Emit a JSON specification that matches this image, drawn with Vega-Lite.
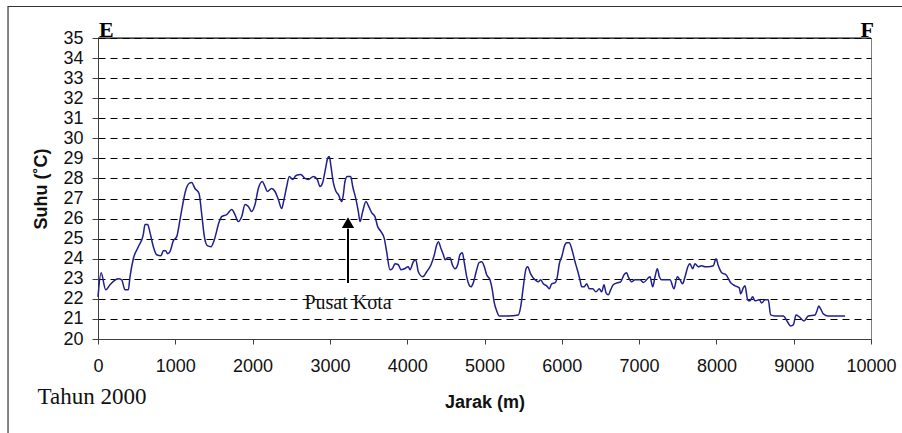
{
  "$schema": "https://vega.github.io/schema/vega-lite/v6.json",
  "width": 773,
  "height": 301,
  "autosize": {"type": "none"},
  "padding": {"left": 98, "top": 38, "right": 31, "bottom": 94},
  "background": "white",
  "config": {
    "view": {"stroke": "#808080", "strokeWidth": 1},
    "font": "Liberation Sans"
  },
  "datasets": {
    "suhu": [
      {"jarak":0,"suhu":22.1},{"jarak":40,"suhu":23.3},{"jarak":100,"suhu":22.45},{"jarak":155,"suhu":22.7},{"jarak":263,"suhu":23.0},{"jarak":306,"suhu":22.95},{"jarak":350,"suhu":22.45},{"jarak":392,"suhu":22.45},{"jarak":414,"suhu":23.1},{"jarak":457,"suhu":24.0},{"jarak":522,"suhu":24.6},{"jarak":586,"suhu":25.2},{"jarak":608,"suhu":25.7},{"jarak":643,"suhu":25.7},{"jarak":673,"suhu":25.3},{"jarak":716,"suhu":24.6},{"jarak":759,"suhu":24.2},{"jarak":815,"suhu":24.15},{"jarak":845,"suhu":24.4},{"jarak":875,"suhu":24.4},{"jarak":901,"suhu":24.25},{"jarak":931,"suhu":24.35},{"jarak":975,"suhu":24.9},{"jarak":1018,"suhu":25.1},{"jarak":1061,"suhu":25.95},{"jarak":1091,"suhu":26.6},{"jarak":1134,"suhu":27.4},{"jarak":1177,"suhu":27.75},{"jarak":1212,"suhu":27.8},{"jarak":1255,"suhu":27.5},{"jarak":1307,"suhu":27.25},{"jarak":1341,"suhu":26.25},{"jarak":1376,"suhu":25.1},{"jarak":1414,"suhu":24.65},{"jarak":1462,"suhu":24.6},{"jarak":1505,"suhu":24.95},{"jarak":1565,"suhu":25.8},{"jarak":1600,"suhu":26.1},{"jarak":1665,"suhu":26.2},{"jarak":1730,"suhu":26.45},{"jarak":1772,"suhu":26.2},{"jarak":1815,"suhu":25.85},{"jarak":1859,"suhu":26.1},{"jarak":1902,"suhu":26.7},{"jarak":1945,"suhu":26.6},{"jarak":1988,"suhu":26.35},{"jarak":2031,"suhu":26.7},{"jarak":2074,"suhu":27.5},{"jarak":2126,"suhu":27.85},{"jarak":2160,"suhu":27.6},{"jarak":2190,"suhu":27.35},{"jarak":2247,"suhu":27.5},{"jarak":2290,"suhu":27.35},{"jarak":2333,"suhu":26.95},{"jarak":2376,"suhu":26.5},{"jarak":2406,"suhu":26.95},{"jarak":2441,"suhu":27.6},{"jarak":2475,"suhu":28.1},{"jarak":2519,"suhu":27.95},{"jarak":2562,"suhu":28.15},{"jarak":2622,"suhu":28.2},{"jarak":2678,"suhu":28.0},{"jarak":2721,"suhu":27.95},{"jarak":2786,"suhu":28.1},{"jarak":2837,"suhu":27.95},{"jarak":2872,"suhu":27.6},{"jarak":2907,"suhu":27.8},{"jarak":2937,"suhu":28.35},{"jarak":2971,"suhu":29.0},{"jarak":2992,"suhu":29.1},{"jarak":3014,"suhu":28.6},{"jarak":3044,"suhu":27.8},{"jarak":3079,"suhu":27.35},{"jarak":3109,"suhu":27.2},{"jarak":3153,"suhu":26.85},{"jarak":3174,"suhu":27.2},{"jarak":3195,"suhu":27.85},{"jarak":3225,"suhu":28.1},{"jarak":3269,"suhu":28.1},{"jarak":3295,"suhu":27.6},{"jarak":3338,"suhu":26.95},{"jarak":3368,"suhu":26.35},{"jarak":3390,"suhu":25.85},{"jarak":3424,"suhu":26.35},{"jarak":3467,"suhu":26.85},{"jarak":3497,"suhu":26.65},{"jarak":3540,"suhu":26.3},{"jarak":3583,"suhu":26.1},{"jarak":3618,"suhu":25.6},{"jarak":3661,"suhu":25.35},{"jarak":3704,"suhu":25.0},{"jarak":3734,"suhu":24.35},{"jarak":3777,"suhu":23.45},{"jarak":3808,"suhu":23.5},{"jarak":3842,"suhu":23.75},{"jarak":3885,"suhu":23.7},{"jarak":3920,"suhu":23.45},{"jarak":3963,"suhu":23.5},{"jarak":4014,"suhu":23.6},{"jarak":4036,"suhu":23.45},{"jarak":4079,"suhu":23.85},{"jarak":4110,"suhu":23.95},{"jarak":4144,"suhu":23.35},{"jarak":4201,"suhu":23.1},{"jarak":4252,"suhu":23.35},{"jarak":4308,"suhu":23.7},{"jarak":4351,"suhu":24.2},{"jarak":4382,"suhu":24.7},{"jarak":4403,"suhu":24.85},{"jarak":4438,"suhu":24.5},{"jarak":4468,"suhu":24.2},{"jarak":4490,"suhu":23.95},{"jarak":4524,"suhu":24.05},{"jarak":4554,"suhu":24.05},{"jarak":4584,"suhu":23.7},{"jarak":4619,"suhu":23.5},{"jarak":4653,"suhu":23.7},{"jarak":4683,"suhu":24.2},{"jarak":4713,"suhu":24.3},{"jarak":4739,"suhu":23.8},{"jarak":4770,"suhu":23.1},{"jarak":4800,"suhu":22.7},{"jarak":4825,"suhu":22.6},{"jarak":4855,"suhu":22.8},{"jarak":4899,"suhu":23.45},{"jarak":4929,"suhu":23.8},{"jarak":4964,"suhu":23.85},{"jarak":4998,"suhu":23.6},{"jarak":5028,"suhu":23.2},{"jarak":5071,"suhu":22.95},{"jarak":5101,"suhu":22.45},{"jarak":5127,"suhu":21.8},{"jarak":5158,"suhu":21.4},{"jarak":5190,"suhu":21.15},{"jarak":5300,"suhu":21.15},{"jarak":5437,"suhu":21.2},{"jarak":5468,"suhu":21.6},{"jarak":5502,"suhu":22.6},{"jarak":5537,"suhu":23.5},{"jarak":5558,"suhu":23.6},{"jarak":5597,"suhu":23.25},{"jarak":5653,"suhu":22.95},{"jarak":5696,"suhu":22.85},{"jarak":5727,"suhu":22.95},{"jarak":5761,"suhu":22.75},{"jarak":5804,"suhu":22.65},{"jarak":5839,"suhu":22.5},{"jarak":5869,"suhu":22.75},{"jarak":5912,"suhu":22.8},{"jarak":5942,"suhu":23.1},{"jarak":5968,"suhu":23.75},{"jarak":5999,"suhu":24.1},{"jarak":6041,"suhu":24.7},{"jarak":6063,"suhu":24.8},{"jarak":6097,"suhu":24.8},{"jarak":6128,"suhu":24.5},{"jarak":6171,"suhu":23.85},{"jarak":6201,"suhu":23.45},{"jarak":6235,"suhu":22.95},{"jarak":6257,"suhu":22.6},{"jarak":6287,"suhu":22.6},{"jarak":6322,"suhu":22.75},{"jarak":6356,"suhu":22.5},{"jarak":6400,"suhu":22.5},{"jarak":6442,"suhu":22.35},{"jarak":6485,"suhu":22.5},{"jarak":6516,"suhu":22.35},{"jarak":6546,"suhu":22.7},{"jarak":6572,"suhu":22.3},{"jarak":6602,"suhu":22.2},{"jarak":6632,"suhu":22.45},{"jarak":6666,"suhu":22.7},{"jarak":6718,"suhu":22.8},{"jarak":6762,"suhu":22.85},{"jarak":6805,"suhu":23.2},{"jarak":6839,"suhu":23.3},{"jarak":6860,"suhu":23.1},{"jarak":6904,"suhu":22.85},{"jarak":6947,"suhu":22.95},{"jarak":7012,"suhu":22.95},{"jarak":7055,"suhu":22.82},{"jarak":7141,"suhu":23.1},{"jarak":7176,"suhu":22.6},{"jarak":7206,"suhu":23.1},{"jarak":7236,"suhu":23.5},{"jarak":7262,"suhu":23.1},{"jarak":7292,"suhu":22.95},{"jarak":7400,"suhu":22.95},{"jarak":7451,"suhu":22.5},{"jarak":7494,"suhu":23.1},{"jarak":7529,"suhu":22.95},{"jarak":7563,"suhu":22.75},{"jarak":7594,"suhu":23.1},{"jarak":7636,"suhu":23.65},{"jarak":7658,"suhu":23.75},{"jarak":7693,"suhu":23.5},{"jarak":7723,"suhu":23.75},{"jarak":7766,"suhu":23.6},{"jarak":7810,"suhu":23.65},{"jarak":7852,"suhu":23.6},{"jarak":7895,"suhu":23.6},{"jarak":7960,"suhu":23.65},{"jarak":7995,"suhu":24.0},{"jarak":8025,"suhu":23.65},{"jarak":8069,"suhu":23.3},{"jarak":8124,"suhu":23.2},{"jarak":8185,"suhu":22.8},{"jarak":8241,"suhu":22.65},{"jarak":8296,"suhu":22.55},{"jarak":8314,"suhu":22.25},{"jarak":8348,"suhu":22.55},{"jarak":8370,"suhu":22.65},{"jarak":8405,"suhu":21.95},{"jarak":8434,"suhu":21.9},{"jarak":8469,"suhu":22.1},{"jarak":8499,"suhu":21.9},{"jarak":8555,"suhu":21.95},{"jarak":8586,"suhu":21.8},{"jarak":8629,"suhu":21.95},{"jarak":8671,"suhu":21.95},{"jarak":8702,"suhu":21.2},{"jarak":8758,"suhu":21.15},{"jarak":8866,"suhu":21.15},{"jarak":8917,"suhu":20.87},{"jarak":8961,"suhu":20.65},{"jarak":8995,"suhu":20.7},{"jarak":9030,"suhu":21.2},{"jarak":9073,"suhu":21.1},{"jarak":9134,"suhu":20.9},{"jarak":9189,"suhu":21.15},{"jarak":9276,"suhu":21.2},{"jarak":9305,"suhu":21.45},{"jarak":9323,"suhu":21.65},{"jarak":9349,"suhu":21.5},{"jarak":9383,"suhu":21.25},{"jarak":9448,"suhu":21.15},{"jarak":9664,"suhu":21.15}
    ]
  },
  "encoding": {
    "x": {
      "field": "jarak", "type": "quantitative",
      "scale": {"domain": [0, 10000], "nice": false},
      "axis": {
        "title": "Jarak (m)", "values": [0,1000,2000,3000,4000,5000,6000,7000,8000,9000,10000],
        "format": "d", "labelOverlap": false,
        "grid": false, "domain": true, "domainColor": "#404040", "tickColor": "#404040",
        "tickSize": 5, "labelFontSize": 18, "labelColor": "#111111", "labelPadding": 13,
        "labelFont": "Liberation Sans", "labelFlush": false,
        "titleFont": "Liberation Sans", "titleFontSize": 18, "titleFontWeight": "bold",
        "titleColor": "#111111", "titlePadding": 18
      }
    },
    "y": {
      "field": "suhu", "type": "quantitative",
      "scale": {"domain": [20, 35], "nice": false, "zero": false},
      "axis": {
        "title": "Suhu (˚C)", "values": [20,21,22,23,24,25,26,27,28,29,30,31,32,33,34,35],
        "format": "d", "labelOverlap": false,
        "grid": true, "gridColor": "#000000", "gridWidth": 1,
        "gridDash": [7, 5],
        "domain": true, "domainColor": "#404040", "tickColor": "#404040",
        "tickSize": 6, "labelFontSize": 18, "labelColor": "#111111", "labelPadding": 9,
        "labelFont": "Liberation Sans", "labelFlush": false, "labelBaseline": "middle",
        "titleFont": "Liberation Sans", "titleFontSize": 18, "titleFontWeight": "bold",
        "titleColor": "#111111", "titlePadding": 12
      }
    }
  },
  "layer": [
    {
      "data": {"name": "suhu"},
      "mark": {"type": "line", "color": "#1f1f8f", "strokeWidth": 1.5, "interpolate": "monotone"}
    },
    {
      "data": {"values": [{"jarak": 0, "suhu": 35, "ujung": 10000}]},
      "mark": {"type": "rule", "color": "#000000", "strokeWidth": 1},
      "encoding": {
        "x2": {"field": "ujung"}
      }
    },
    {
      "data": {"values": [{"jarak": 3234, "suhu": 22.79, "ke": 25.5}]},
      "mark": {"type": "rule", "color": "#000000", "strokeWidth": 2},
      "encoding": {
        "y2": {"field": "ke"}
      }
    },
    {
      "data": {"values": [{"jarak": 3234, "suhu": 25.8}]},
      "mark": {"type": "point", "shape": "triangle-up", "filled": true, "color": "#000000", "size": 150, "opacity": 1}
    },
    {
      "data": {"values": [
        {"jarak": 0, "suhu": 35, "teks": "E"}
      ]},
      "mark": {"type": "text", "font": "Liberation Serif", "fontSize": 22, "fontWeight": "bold", "align": "left", "baseline": "alphabetic", "dx": 1, "dy": -1, "color": "#000000"},
      "encoding": {
        "text": {"field": "teks"}
      }
    },
    {
      "data": {"values": [
        {"jarak": 10000, "suhu": 35, "teks": "F"}
      ]},
      "mark": {"type": "text", "font": "Liberation Serif", "fontSize": 22, "fontWeight": "bold", "align": "right", "baseline": "alphabetic", "dx": 3, "dy": -1, "color": "#000000"},
      "encoding": {
        "text": {"field": "teks"}
      }
    },
    {
      "data": {"values": [
        {"jarak": 3234, "suhu": 21.8, "teks": "Pusat Kota"}
      ]},
      "mark": {"type": "text", "font": "Liberation Serif", "fontSize": 20, "align": "center", "baseline": "middle", "color": "#111111"},
      "encoding": {
        "text": {"field": "teks"}
      }
    },
    {
      "data": {"values": [
        {"jarak": -78, "suhu": 17.1, "teks": "Tahun 2000"}
      ]},
      "mark": {"type": "text", "font": "Liberation Serif", "fontSize": 23, "align": "center", "baseline": "middle", "color": "#111111"},
      "encoding": {
        "text": {"field": "teks"}
      }
    },
    {
      "data": {"values": [{"jarak": -1164, "kanan": 12000, "suhu": 36.57, "bawah": 10}]},
      "mark": {"type": "rect", "fill": null, "filled": false, "stroke": "#333333", "strokeWidth": 1.2, "clip": false},
      "encoding": {
        "x2": {"field": "kanan"},
        "y2": {"field": "bawah"}
      }
    }
  ]
}
